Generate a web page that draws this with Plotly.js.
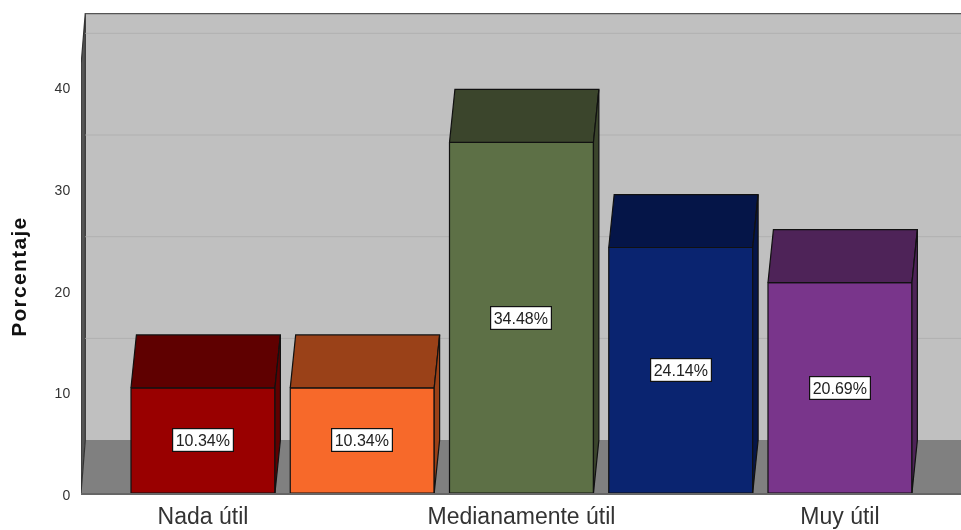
<!DOCTYPE html>
<html>
<head>
<meta charset="utf-8">
<script src="https://cdn.plot.ly/plotly-3.0.1.min.js"></script>
<style>html,body{margin:0;padding:0;background:#fff}#chart{width:961px;height:530px;filter:blur(0.35px)}.annotation[data-index="5"] text{letter-spacing:1.3px}</style>
</head>
<body>
<div id="chart"></div>
<script>
const categories = ["Nada útil", "Poco útil", "Medianamente útil", "Útil", "Muy útil"];
const percentages = [10.34, 10.34, 34.48, 24.14, 20.69];
const frontColors = ["#990000", "#f7692a", "#5d7046", "#0a2470", "#79358b"];
const darkColors = ["#5f0000", "#9a4118", "#3b452c", "#051548", "#4e2358"];
const labelledTicks = [0, 2, 4];
const yTicks = [0, 10, 20, 30, 40];

const xs = categories.map((_, i) => i);
const barWidth = 0.904;
const depthX = 0.034, depthY = 5.2;
const xMin = -0.766, xMax = 4.76, yMax = 47.2;
const wallDx = 0.027;
const edge = "#111";

const poly = (px, py, fill, lineColor, lineWidth) => ({
  type: "scatter", mode: "lines", x: px, y: py, fill: "toself", fillcolor: fill,
  line: {color: lineColor, width: lineWidth}, hoverinfo: "skip", showlegend: false, cliponaxis: false
});
const path = (px, py) => "M" + px.map((x, i) => x + "," + py[i]).join("L") + "Z";
const wx = xMin + wallDx;

// walls and floor sit below the traces
const shapes = [
  {type: "rect", layer: "below", xref: "x", yref: "y", x0: wx, x1: xMax, y0: depthY, y1: yMax, fillcolor: "#c0c0c0", line: {width: 0}},
  {type: "path", layer: "below", xref: "x", yref: "y", path: path([xMin, wx, xMax, xMax], [0, depthY, depthY, 0]), fillcolor: "#808080", line: {width: 0}},
  {type: "path", layer: "below", xref: "x", yref: "y", path: path([xMin, wx, wx, xMin], [0, depthY, yMax, yMax - depthY]), fillcolor: "#555", line: {color: "#333", width: 1.2}},
  {type: "line", layer: "below", xref: "x", yref: "y", x0: wx, x1: xMax, y0: yMax, y1: yMax, line: {color: "#555", width: 2.5}}
];
yTicks.filter(v => v > 0).forEach(v => shapes.push({
  type: "line", layer: "below", xref: "x", yref: "y", x0: wx, x1: xMax, y0: v + depthY, y1: v + depthY, line: {color: "#b0b0b0", width: 1}
}));

const traces = [];
// bar front faces
traces.push({
  type: "bar", x: xs, y: percentages, width: barWidth,
  marker: {color: frontColors, line: {color: edge, width: 1.2}},
  hoverinfo: "skip", showlegend: false
});
// bar top and side faces, from the values
percentages.forEach((v, i) => {
  const l = xs[i] - barWidth / 2, r = xs[i] + barWidth / 2;
  traces.push(poly([l, l + depthX, r + depthX, r, l], [v, v + depthY, v + depthY, v, v], darkColors[i], edge, 1.2));
  traces.push(poly([r, r + depthX, r + depthX, r, r], [0, depthY, v + depthY, v, 0], darkColors[i], edge, 1.2));
});

const annotations = percentages.map((v, i) => ({
  x: xs[i], y: v / 2, xref: "x", yref: "y", text: v.toFixed(2) + "%", showarrow: false,
  font: {family: "Liberation Sans, Arial, sans-serif", size: 16, color: "#222"},
  bgcolor: "#fff", bordercolor: "#111", borderwidth: 1.2, borderpad: 2.5
}));
annotations.push({
  xref: "paper", yref: "paper", x: -0.0712, y: 0.45, xanchor: "center", yanchor: "middle",
  text: "<b>Porcentaje</b>", textangle: -90, showarrow: false,
  font: {family: "Liberation Sans, Arial, sans-serif", size: 21, color: "#111"}
});

Plotly.newPlot("chart", traces, {
  width: 961, height: 530,
  margin: {l: 81, r: 0, t: 13, b: 37, pad: 0},
  paper_bgcolor: "#fff", plot_bgcolor: "#fff",
  showlegend: false, annotations: annotations, shapes: shapes,
  xaxis: {
    range: [xMin, xMax], tickmode: "array", tickvals: labelledTicks,
    ticktext: labelledTicks.map(i => categories[i]),
    showgrid: false, zeroline: false, showline: true, linecolor: "#666", linewidth: 2,
    ticks: "outside", ticklen: 1, tickcolor: "rgba(0,0,0,0)",
    tickfont: {family: "Liberation Sans, Arial, sans-serif", size: 23, color: "#333"}
  },
  yaxis: {
    range: [0, yMax], tickmode: "array", tickvals: yTicks,
    showgrid: false, zeroline: false, showline: false,
    ticks: "outside", ticklen: 7, tickcolor: "rgba(0,0,0,0)", ticklabelshift: 2,
    tickfont: {family: "Liberation Sans, Arial, sans-serif", size: 14, color: "#333"}
  }
}, {displayModeBar: false, staticPlot: true});
</script>
</body>
</html>
